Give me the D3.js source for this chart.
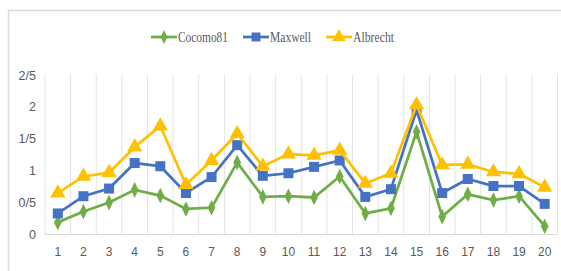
<!DOCTYPE html>
<html><head><meta charset="utf-8">
<script src="https://cdn.jsdelivr.net/npm/d3@7"></script>
<style>body{margin:0;background:#fff}svg{display:block}</style>
</head><body>
<script>
const categories = ["1","2","3","4","5","6","7","8","9","10","11","12","13","14","15","16","17","18","19","20"];
const cocomo81 = [0.19,0.36,0.50,0.70,0.61,0.40,0.42,1.13,0.59,0.60,0.58,0.91,0.33,0.41,1.61,0.28,0.63,0.54,0.60,0.13];
const maxwell  = [0.33,0.60,0.72,1.12,1.07,0.65,0.90,1.40,0.92,0.96,1.06,1.16,0.59,0.71,1.95,0.65,0.87,0.76,0.76,0.48];
const albrecht = [0.65,0.91,0.97,1.37,1.70,0.78,1.16,1.58,1.07,1.26,1.24,1.32,0.80,0.96,2.03,1.09,1.10,0.98,0.95,0.74];
const yTicks = [0,0.5,1,1.5,2,2.5];
const yTickLabels = ["0","0/5","1","1/5","2","2/5"];
const seriesNames = ["Cocomo81","Maxwell","Albrecht"];

(function(){
const W=561,H=271;
const svg=d3.select("body").append("svg").attr("width",W).attr("height",H);
svg.append("rect").attr("x",8.5).attr("y",10.5).attr("width",W).attr("height",H).attr("fill","none").attr("stroke","#d9d9d9").attr("stroke-width",1.5);

const pLeft=45,pRight=557.5,pTop=74,pBottom=234.5;
const x=d3.scaleBand().domain(categories).range([pLeft,pRight]);
const y=d3.scaleLinear().domain([0,2.5]).range([pBottom,75]);

const bounds=categories.map(c=>x(c)).concat([x(categories[categories.length-1])+x.bandwidth()]);
svg.append("g").selectAll("line").data(bounds).join("line")
 .attr("x1",d=>d).attr("x2",d=>d).attr("y1",pTop).attr("y2",pBottom)
 .attr("stroke","#e3e3e3").attr("stroke-width",1);
svg.append("line").attr("x1",pLeft).attr("x2",pRight).attr("y1",pBottom).attr("y2",pBottom).attr("stroke","#d9d9d9").attr("stroke-width",1);

const yAxis=d3.axisLeft(y).tickValues(yTicks).tickFormat((d,i)=>yTickLabels[i]).tickSize(0).tickPadding(0);
const gy=svg.append("g").attr("transform","translate(36,0)").call(yAxis);
gy.select(".domain").remove();
gy.selectAll("text").attr("font-family","Liberation Sans, Arial, sans-serif").attr("font-size",12.5).attr("fill","#595959");

const xAxis=d3.axisBottom(x).tickSize(0).tickPadding(0);
const gx=svg.append("g").attr("transform",`translate(0,${pBottom+13})`).call(xAxis);
gx.select(".domain").remove();
gx.selectAll("text").attr("font-family","Liberation Sans, Arial, sans-serif").attr("font-size",12).attr("fill","#595959");

const colors=["#70AD47","#4472C4","#FFC000"];
const data=[cocomo81,maxwell,albrecht];
const symbols=[d3.symbolDiamond,d3.symbolSquare,d3.symbolTriangle];
const sizes=[70,100,100];
const cx=c=>x(c)+x.bandwidth()/2;
const line=d3.line().x((d,i)=>cx(categories[i])).y(d=>y(d));

data.forEach((vals,k)=>{
  const g=svg.append("g");
  g.append("path").datum(vals).attr("d",line).attr("fill","none").attr("stroke",colors[k]).attr("stroke-width",2.75);
  g.selectAll("path.m").data(vals).join("path").attr("class","m")
   .attr("d",d3.symbol().type(symbols[k]).size(sizes[k]))
   .attr("transform",(d,i)=>`translate(${cx(categories[i])},${y(d)})`+(k===0?" scale(0.85,1)":""))
   .attr("fill",colors[k]);
});

const legX=[151,243,326];
const leg=svg.append("g");
seriesNames.forEach((n,k)=>{
  const g=leg.append("g").attr("transform",`translate(${legX[k]},37)`);
  g.append("line").attr("x1",0).attr("x2",26).attr("stroke",colors[k]).attr("stroke-width",2.75);
  g.append("path").attr("d",d3.symbol().type(symbols[k]).size(sizes[k]*0.8)()).attr("transform","translate(13,0)"+(k===0?" scale(0.85,1)":"")).attr("fill",colors[k]);
  g.append("text").attr("x",27).attr("y",5).text(n)
   .attr("font-family","Liberation Serif, Times New Roman, serif").attr("font-size",14).attr("fill","#595959")
   .attr("textLength",[50,41,41][k]).attr("lengthAdjust","spacingAndGlyphs");
});
})();
</script>
</body></html>
